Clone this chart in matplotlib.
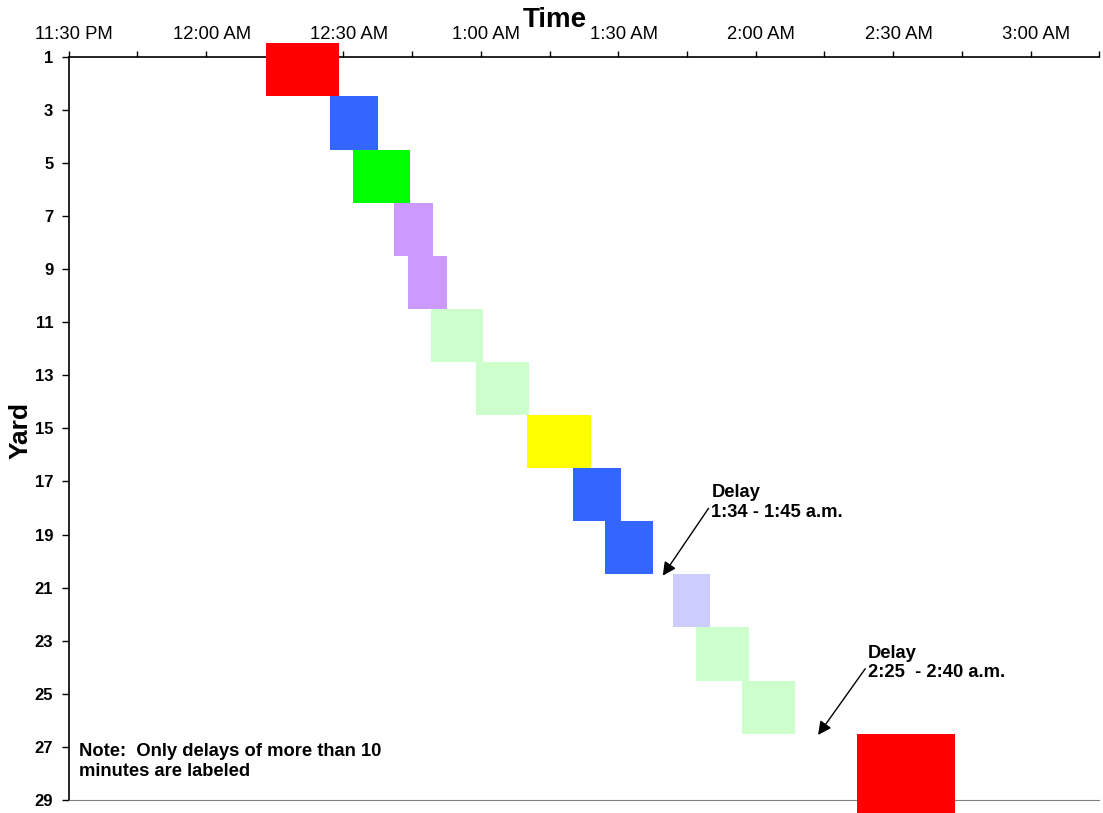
import numpy as np
import matplotlib
matplotlib.use("Agg")
import matplotlib.pyplot as plt
import matplotlib.transforms as mtransforms
from matplotlib.ticker import MultipleLocator, FuncFormatter

plt.rcParams['font.family'] = ['Liberation Sans', 'DejaVu Sans']

# block times in minutes after midnight (negative = before midnight)
start_min = [13, 27, 32, 41, 44, 49, 59, 70, 80, 87, 102, 107, 117, 142]
end_min = [29, 37.5, 44.5, 49.5, 52.5, 60.5, 70.5, 84, 90.5, 97.5, 110, 118.5, 128.5, 163.5]
# yard ranges covered by each block
yard_lo = [0.5, 2.5, 4.5, 6.5, 8.5, 10.5, 12.5, 14.5, 16.5, 18.5, 20.5, 22.5, 24.5, 26.5]
yard_hi = [2.5, 4.5, 6.5, 8.5, 10.5, 12.5, 14.5, 16.5, 18.5, 20.5, 22.5, 24.5, 26.5, 29.6]
colors = ['#FF0000', '#3366FF', '#00FF00', '#CC99FF', '#CC99FF', '#CCFFCC', '#CCFFCC',
          '#FFFF00', '#3366FF', '#3366FF', '#CCCCFF', '#CCFFCC', '#CCFFCC', '#FF0000']

yard_ticks = list(range(1, 30, 2))


def time_label(m, pos):
    total = int(round(m)) % (24 * 60)
    h, mm = divmod(total, 60)
    ampm = "AM" if h < 12 else "PM"
    h12 = h % 12
    if h12 == 0:
        h12 = 12
    return "%d:%02d %s" % (h12, mm, ampm)


fig = plt.figure(figsize=(11.03, 8.13), dpi=100)
ax = fig.add_axes([0.0622, 0.016, 0.9345, 0.9143])

starts = np.array(start_min)
widths = np.array(end_min) - starts
lo = np.array(yard_lo)
hi = np.array(yard_hi)
bars = ax.barh((lo + hi) / 2, widths, height=hi - lo, left=starts,
               color=colors, edgecolor='none', zorder=3)
for b in bars:
    b.set_clip_on(False)

ax.set_xlim(-30, 195)
ax.set_ylim(29, 1)

ax.xaxis.tick_top()
ax.xaxis.set_label_position('top')
ax.xaxis.set_major_locator(MultipleLocator(30))
ax.xaxis.set_minor_locator(MultipleLocator(15))
ax.xaxis.set_major_formatter(FuncFormatter(time_label))
ax.tick_params(axis='x', which='both', direction='out', length=4, width=1, pad=6,
               labelsize=13.3, colors='black')
# excel puts the time labels a few pixels right of the tick
shift = mtransforms.ScaledTranslation(4 / 72, 0, fig.dpi_scale_trans)
for lbl in ax.get_xticklabels():
    lbl.set_transform(lbl.get_transform() + shift)

ax.set_yticks(yard_ticks)
ax.tick_params(axis='y', direction='out', length=5, width=1, pad=6, labelsize=12)
for lbl in ax.get_yticklabels():
    lbl.set_fontweight('bold')

ax.spines['right'].set_visible(False)
ax.spines['bottom'].set_color('#808080')
ax.spines['top'].set_linewidth(1.2)
ax.spines['left'].set_linewidth(1.2)

fig.text(0.503, 0.975, "Time", ha='center', va='center', fontsize=20, fontweight='bold')
fig.text(0.019, 0.47, "Yard", ha='center', va='center', fontsize=19,
         fontweight='bold', rotation=90)

ax.annotate("Delay\n1:34 - 1:45 a.m.", xy=(99.7, 20.55), xytext=(110.3, 17.1),
            ha='left', va='top', fontsize=13.2, fontweight='bold', linespacing=1.2,
            arrowprops=dict(arrowstyle='-|>', color='black', lw=1,
                            mutation_scale=20, shrinkA=0, shrinkB=0,
                            relpos=(0.0, 0.45)))
ax.annotate("Delay\n2:25  - 2:40 a.m.", xy=(133.6, 26.55), xytext=(144.5, 23.15),
            ha='left', va='top', fontsize=13.2, fontweight='bold', linespacing=1.2,
            arrowprops=dict(arrowstyle='-|>', color='black', lw=1,
                            mutation_scale=20, shrinkA=0, shrinkB=0,
                            relpos=(0.0, 0.45)))

ax.text(-27.8, 26.85, "Note:  Only delays of more than 10\nminutes are labeled",
        ha='left', va='top', fontsize=13.2, fontweight='bold', linespacing=1.2)

fig.savefig("out.png", dpi=100)
